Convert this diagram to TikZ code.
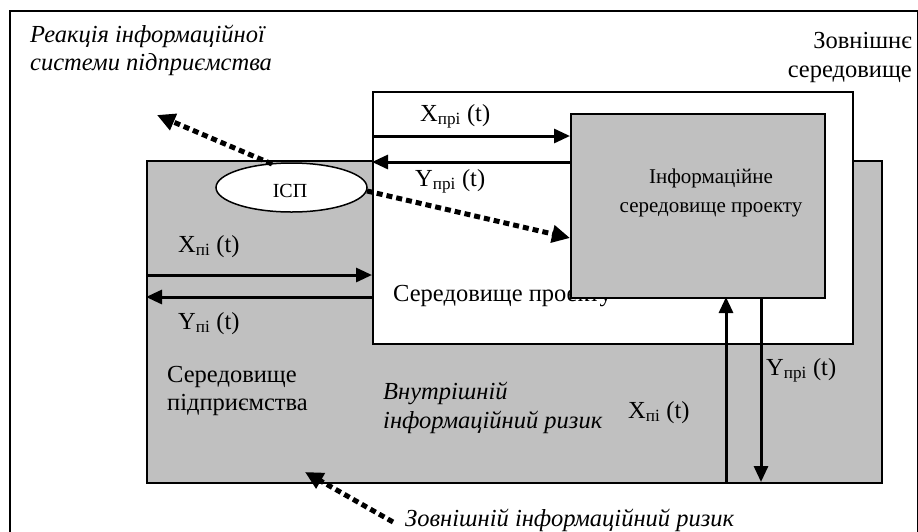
\documentclass[tikz,border=0pt]{standalone}
\usepackage{fontspec}
\setmainfont{Liberation Serif}
\usetikzlibrary{arrows.meta,shapes.geometric}
\definecolor{boxgrey}{HTML}{C0C0C0}
\begin{document}
\begin{tikzpicture}[x=1pt,y=-1pt,
  boxframe/.style={draw=black,line width=1.5pt,inner sep=0pt,anchor=north west},
  flow/.style={line width=3pt,-{Triangle[length=16pt,width=14pt]}},
  risk/.style={line width=5pt,dash pattern=on 6pt off 4pt,-{Triangle[length=18pt,width=17pt]}},
  lbl/.style={font=\fontsize{24.5}{28}\selectfont,inner sep=0pt,anchor=base west},
  ilbl/.style={font=\fontsize{24.5}{28}\selectfont\itshape,inner sep=0pt,anchor=base west,align=left},
]
\useasboundingbox (0,0) rectangle (918,531);
\clip (0,0) rectangle (918,531);
% outer frame
\node[boxframe,minimum width=908pt,minimum height=540pt] (ext) at (9,10) {};
% enterprise
\node[boxframe,fill=boxgrey,minimum width=735pt,minimum height=322pt] (ent) at (146,160) {};
% project
\node[boxframe,fill=white,minimum width=480pt,minimum height=252pt] (proj) at (372,91) {};
\node[lbl] (projtxt) at (393,301) {Середовище проекту};
% info environment
\node[boxframe,fill=boxgrey,minimum width=254pt,minimum height=184pt] (info) at (570,113) {};
\node[font=\fontsize{21}{29}\selectfont,align=center,inner sep=0pt,anchor=base] (infotxt) at (711,212) {Інформаційне\\середовище проекту};
% ellipse
\node[draw=black,line width=1.5pt,fill=white,ellipse,minimum width=151pt,minimum height=49pt,inner sep=0pt] (isp) at (291.5,187.5) {};
\node[font=\fontsize{20}{22}\selectfont,inner sep=0pt,anchor=base] (isptxt) at (290,197) {ІСП};

% texts
\node[ilbl] (react) at (30,70) {Реакція інформаційної\\системи підприємства};
\node[font=\fontsize{24.5}{29}\selectfont,align=right,inner sep=0pt,anchor=base east] (exttxt) at (912,77) {Зовнішнє\\середовище};
\node[font=\fontsize{24.5}{28}\selectfont,align=left,inner sep=0pt,anchor=base west] (enttxt) at (167,410) {Середовище\\підприємства};
\node[ilbl,font=\fontsize{24.5}{29}\selectfont\itshape] (inrisk) at (383,428) {Внутрішній\\інформаційний ризик};
\node[ilbl] (exrisk) at (405,526) {Зовнішній інформаційний ризик};

\node[lbl] (lxnpi) at (420,121) {X\textsubscript{прі} (t)};
\node[lbl] (lynpi) at (415,186) {Y\textsubscript{прі} (t)};
\node[lbl] (lxni) at (178,252) {X\textsubscript{пі} (t)};
\node[lbl] (lyni) at (178,329) {Y\textsubscript{пі} (t)};
\node[lbl] (lxni2) at (628,418) {X\textsubscript{пі} (t)};
\node[lbl] (lynpi2) at (766,375) {Y\textsubscript{прі} (t)};

% flow arrows
\coordinate (a1) at (372,136); \coordinate (b1) at (570,136);
\coordinate (a2) at (570,162); \coordinate (b2) at (372,162);
\coordinate (a3) at (146,275); \coordinate (b3) at (372,275);
\coordinate (a4) at (372,297); \coordinate (b4) at (146,297);
\coordinate (a5) at (726,482); \coordinate (b5) at (726,297);
\coordinate (a6) at (761,297); \coordinate (b6) at (761,482);
\draw[flow] (a1) -- (b1);
\draw[flow] (a2) -- (b2);
\draw[flow] (a3) -- (b3);
\draw[flow] (a4) -- (b4);
\draw[flow] (a5) -- (b5);
\draw[flow] (a6) -- (b6);

% risk arrows
\coordinate (r1s) at (272,164);
\coordinate (r1e) at (157,115);
\coordinate (r2s) at (367,191);
\coordinate (r2e) at (570,238);
\coordinate (r3s) at (393,522);
\coordinate (r3e) at (305,472);
\draw[risk] (r1s) -- (r1e);
\draw[risk] (r2s) -- (r2e);
\draw[risk] (r3s) -- (r3e);
\end{tikzpicture}
\end{document}
